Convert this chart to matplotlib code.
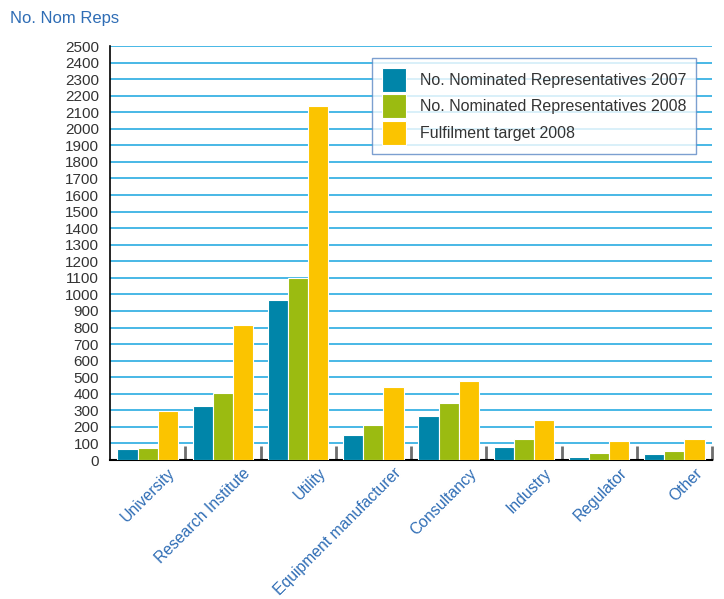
import numpy as np
import matplotlib.pyplot as plt
from matplotlib.transforms import ScaledTranslation

plt.rcParams['font.family'] = ['Liberation Sans', 'DejaVu Sans']

categories = ["University", "Research Institute", "Utility", "Equipment manufacturer",
              "Consultancy", "Industry", "Regulator", "Other"]
reps_2007 = [68, 328, 968, 153, 268, 80, 20, 38]
reps_2008 = [74, 406, 1100, 213, 346, 129, 44, 56]
target_2008 = [298, 817, 2138, 443, 479, 243, 117, 129]
series_names = ["No. Nominated Representatives 2007",
                "No. Nominated Representatives 2008",
                "Fulfilment target 2008"]

colors = ["#0085a9", "#9bbb11", "#fbc400"]
blue = "#2f6db5"

fig = plt.figure(figsize=(7.24, 5.99), dpi=100)
ax = fig.add_axes([110 / 724, 1 - 460 / 599, 602 / 724, 414 / 599])

x = np.arange(len(categories))
w = 0.267
for i, vals in enumerate([reps_2007, reps_2008, target_2008]):
    ax.bar(x + (i - 1) * w, vals, width=w, color=colors[i], edgecolor="white",
           linewidth=0.8, label=series_names[i], zorder=3)

ax.set_xlim(-0.5, len(categories) - 0.5)
ax.set_ylim(0, 2500)
ax.set_yticks(np.arange(0, 2501, 100))
ax.yaxis.grid(True, color="#29abe2", linewidth=1.2, zorder=0)
ax.tick_params(axis="y", length=0, labelsize=11, labelcolor="#333333", pad=8)

ax.set_xticks(x)
ax.set_xticklabels(categories, rotation=45, ha="right", rotation_mode="anchor",
                   color=blue, fontsize=11.3)
ax.tick_params(axis="x", length=0, pad=4)
offset = ScaledTranslation(20 / 100, 0, fig.dpi_scale_trans)
for lab in ax.get_xticklabels():
    lab.set_transform(lab.get_transform() + offset)
ax.set_xticks(np.arange(0.5, len(categories), 1), minor=True)
ax.tick_params(axis="x", which="minor", direction="in", length=10, width=2, color="#6e6e6e")

for s in ["top", "right"]:
    ax.spines[s].set_visible(False)
ax.spines["left"].set_color("black")
ax.spines["bottom"].set_color("black")
ax.spines["bottom"].set_linewidth(1.5)
ax.spines["left"].set_linewidth(1.2)

leg = ax.legend(loc="upper right", bbox_to_anchor=(586 / 602, 1 - 12 / 414), fontsize=11.5,
                frameon=True, fancybox=False, handlelength=1.5, handleheight=1.93,
                labelspacing=0.16, borderpad=0.6, handletextpad=0.9, borderaxespad=0)
leg.get_frame().set_edgecolor("#5b87c5")
leg.get_frame().set_linewidth(1.0)
for t in leg.get_texts():
    t.set_color("#333333")

fig.text(10 / 724, 1 - 18 / 599, "No. Nom Reps", color=blue, fontsize=12, va="center")

fig.savefig("out.png", dpi=100)
